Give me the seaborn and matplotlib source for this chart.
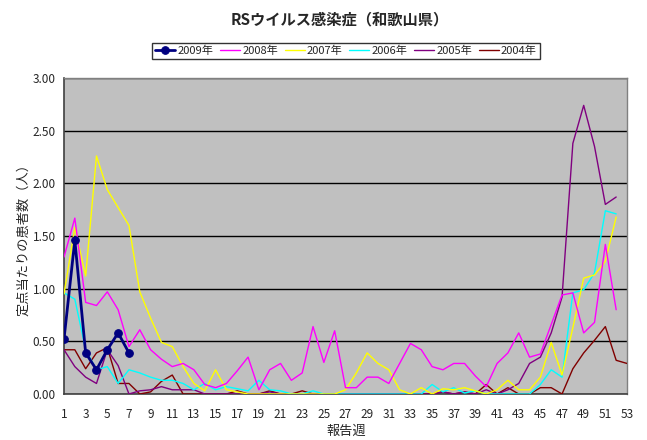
import matplotlib
matplotlib.use("Agg")
import matplotlib.pyplot as plt
import seaborn as sns
import pandas as pd
from matplotlib.ticker import MultipleLocator, FormatStrFormatter

sns.set_style("white")
plt.rcParams['font.family'] = ['Noto Sans CJK JP', 'DejaVu Sans']

title = "RSウイルス感染症（和歌山県）"
xlabel = "報告週"
ylabel = "定点当たりの患者数（人）"

years = ["2009年", "2008年", "2007年", "2006年", "2005年", "2004年"]
colors = ["#000080", "#FF00FF", "#FFFF00", "#00FFFF", "#800080", "#800000"]

v2009 = [0.52, 1.46, 0.39, 0.23, 0.42, 0.58, 0.39]
v2008 = [1.30, 1.67, 0.87, 0.84, 0.97, 0.80, 0.45, 0.61, 0.42, 0.33,
         0.26, 0.29, 0.23, 0.09, 0.06, 0.10, 0.22, 0.35, 0.04, 0.23,
         0.29, 0.13, 0.20, 0.64, 0.30, 0.60, 0.06, 0.06, 0.16, 0.16,
         0.10, 0.29, 0.48, 0.42, 0.26, 0.23, 0.29, 0.29, 0.17, 0.07,
         0.29, 0.39, 0.58, 0.35, 0.38, 0.66, 0.94, 0.96, 0.58, 0.68,
         1.42, 0.80]
v2007 = [0.95, 1.58, 1.12, 2.26, 1.94, 1.77, 1.60, 0.97, 0.72, 0.49,
         0.45, 0.26, 0.10, 0.03, 0.23, 0.04, 0.02, 0.00, 0.00, 0.00,
         0.00, 0.00, 0.00, 0.00, 0.00, 0.00, 0.04, 0.20, 0.39, 0.29,
         0.23, 0.04, 0.00, 0.06, 0.00, 0.05, 0.04, 0.06, 0.03, 0.00,
         0.04, 0.13, 0.04, 0.04, 0.16, 0.49, 0.18, 0.63, 1.10, 1.13,
         1.26, 1.68]
v2006 = [0.96, 0.90, 0.42, 0.23, 0.26, 0.10, 0.23, 0.20, 0.16, 0.13,
         0.13, 0.10, 0.04, 0.10, 0.04, 0.07, 0.05, 0.03, 0.13, 0.04,
         0.03, 0.00, 0.00, 0.03, 0.00, 0.00, 0.00, 0.00, 0.00, 0.00,
         0.00, 0.00, 0.00, 0.00, 0.09, 0.02, 0.06, 0.01, 0.03, 0.00,
         0.00, 0.00, 0.00, 0.00, 0.09, 0.23, 0.16, 0.96, 0.99, 1.15,
         1.74, 1.71]
v2005 = [0.42, 0.26, 0.16, 0.10, 0.42, 0.27, 0.00, 0.03, 0.04, 0.07,
         0.04, 0.04, 0.04, 0.00, 0.00, 0.00, 0.00, 0.00, 0.00, 0.02,
         0.00, 0.00, 0.00, 0.00, 0.00, 0.00, 0.00, 0.00, 0.00, 0.00,
         0.00, 0.00, 0.00, 0.00, 0.00, 0.02, 0.00, 0.02, 0.00, 0.04,
         0.00, 0.04, 0.10, 0.29, 0.35, 0.58, 0.92, 2.38, 2.74, 2.35,
         1.80, 1.87]
v2004 = [0.42, 0.42, 0.24, 0.39, 0.44, 0.10, 0.10, 0.00, 0.02, 0.12,
         0.18, 0.00, 0.00, 0.00, 0.00, 0.00, 0.03, 0.00, 0.00, 0.03,
         0.00, 0.00, 0.03, 0.00, 0.00, 0.00, 0.00, 0.00, 0.00, 0.00,
         0.00, 0.00, 0.00, 0.00, 0.00, 0.02, 0.00, 0.02, 0.00, 0.09,
         0.00, 0.06, 0.00, 0.00, 0.06, 0.06, 0.00, 0.24, 0.39, 0.51,
         0.64, 0.32, 0.29]

series = [v2009, v2008, v2007, v2006, v2005, v2004]

fig = plt.figure(figsize=(6.47, 4.40), dpi=100)
ax = fig.add_axes([64/647, 1-394/440, (627-64)/647, (394-78)/440])
ax.set_facecolor("#C0C0C0")

# draw oldest first so 2009 is on top
for name, col, vals in reversed(list(zip(years, colors, series))):
    wk = list(range(1, len(vals) + 1))
    df = pd.DataFrame({"week": wk, "value": vals})
    if name == "2009年":
        sns.lineplot(data=df, x="week", y="value", color=col, linewidth=2,
                     marker="o", markersize=5.5, markeredgecolor=col, ax=ax,
                     label=name, zorder=10)
    else:
        sns.lineplot(data=df, x="week", y="value", color=col, linewidth=1,
                     ax=ax, label=name, zorder=5)

ax.set_xlim(1, 53)
ax.set_ylim(0, 3)
ax.set_xticks(list(range(1, 54, 2)))
ax.xaxis.set_minor_locator(MultipleLocator(1))
ax.yaxis.set_major_locator(MultipleLocator(0.5))
ax.yaxis.set_major_formatter(FormatStrFormatter("%.2f"))
ax.tick_params(axis="x", which="both", direction="in", length=4, width=1,
               color="#333333", labelsize=8.5, pad=10)
ax.tick_params(axis="y", which="major", direction="out", length=3, width=1,
               color="#333333", labelsize=8.5, pad=3)
ax.yaxis.grid(True, color="black", linewidth=1)
ax.xaxis.grid(False)
ax.set_axisbelow(True)
for s in ["left", "bottom"]:
    ax.spines[s].set_color("#404040")
    ax.spines[s].set_linewidth(1.2)
for s in ["top", "right"]:
    ax.spines[s].set_color("#808080")
    ax.spines[s].set_linewidth(1)

ax.set_xlabel("")
ax.set_ylabel("")
fig.text(346/647, 1-431/440, xlabel, ha="center", va="center", fontsize=9.5)
fig.text(24/647, 1-236/440, ylabel, ha="center", va="center",
         rotation=90, fontsize=9.5)
fig.text(340/647, 1-19/440, title, ha="center", va="center",
         fontsize=11, fontweight="bold", fontstyle="italic")

h, l = ax.get_legend_handles_labels()
order = [l.index(y) for y in years]
ax.legend([h[i] for i in order], [l[i] for i in order], ncol=6,
          loc="center", bbox_to_anchor=(346/647, 1-51/440),
          bbox_transform=fig.transFigure, frameon=True, fancybox=False,
          edgecolor="black", fontsize=8, handlelength=1.8,
          handletextpad=0.2, columnspacing=0.6, borderpad=0.25,
          borderaxespad=0)
leg = ax.get_legend()
leg.get_frame().set_linewidth(1)

fig.savefig("out.png", dpi=100, facecolor="white")
